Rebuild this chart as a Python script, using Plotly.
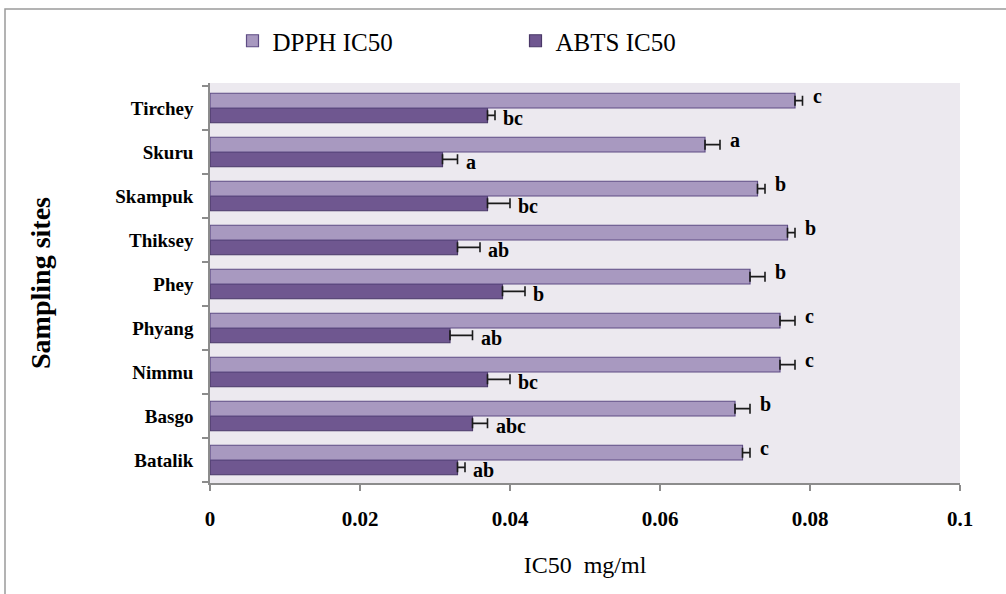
import plotly.graph_objects as go

# Sampling sites, listed bottom-to-top as drawn on the category axis
sites = ["Batalik", "Basgo", "Nimmu", "Phyang", "Phey", "Thiksey", "Skampuk", "Skuru", "Tirchey"]

# IC50 (mg/ml) and standard errors
dpph_ic50 = [0.071, 0.070, 0.076, 0.076, 0.072, 0.077, 0.073, 0.066, 0.078]
dpph_err = [0.001, 0.002, 0.002, 0.002, 0.002, 0.001, 0.001, 0.002, 0.001]
abts_ic50 = [0.033, 0.035, 0.037, 0.032, 0.039, 0.033, 0.037, 0.031, 0.037]
abts_err = [0.001, 0.002, 0.003, 0.003, 0.003, 0.003, 0.003, 0.002, 0.001]

# Significance letters
dpph_letters = ["c", "b", "c", "c", "b", "b", "b", "a", "c"]
abts_letters = ["ab", "abc", "bc", "ab", "b", "ab", "bc", "a", "bc"]

x_ticks = [0, 0.02, 0.04, 0.06, 0.08, 0.1]
x_ticktext = ["0", "0.02", "0.04", "0.06", "0.08", "0.1"]

SERIF = "Liberation Serif"
W, H = 1006, 594
ML, MR, MT, MB = 210, 46, 83, 111

fig = go.Figure()

err_style = dict(type="data", symmetric=False, color="#1a1a1a", thickness=1.6, width=5)

fig.add_trace(go.Bar(
    name="ABTS IC50", y=sites, x=abts_ic50, orientation="h",
    marker=dict(color="#6F5790", line=dict(color="#4A3868", width=1.2)),
    error_x=dict(array=abts_err, arrayminus=[0] * len(sites), **err_style),
    legendrank=2,
))
fig.add_trace(go.Bar(
    name="DPPH IC50", y=sites, x=dpph_ic50, orientation="h",
    marker=dict(color="#A899C0", line=dict(color="#5E4C84", width=1.2)),
    error_x=dict(array=dpph_err, arrayminus=[0] * len(sites), **err_style),
    legendrank=1,
))

letter_font = dict(family=SERIF, size=20, color="black", weight="bold")
annotations = []
for s, v, e, t in zip(sites, dpph_ic50, dpph_err, dpph_letters):
    annotations.append(dict(x=v + e, y=s, text=t, showarrow=False, xanchor="left",
                            xshift=8, yshift=12, font=letter_font))
for s, v, e, t in zip(sites, abts_ic50, abts_err, abts_letters):
    annotations.append(dict(x=v + e, y=s, text=t, showarrow=False, xanchor="left",
                            xshift=6, yshift=-10, font=letter_font))

# outer chart frame
pw, ph = W - ML - MR, H - MT - MB
def px_to_paper_x(p):
    return (p - ML) / pw
def px_to_paper_y(p):
    return 1 - (p - MT) / ph

shapes = [dict(type="rect", xref="paper", yref="paper",
               x0=px_to_paper_x(5), x1=px_to_paper_x(W + 10),
               y0=px_to_paper_y(H + 10), y1=px_to_paper_y(9),
               line=dict(color="#9a9a9a", width=1.5), fillcolor="rgba(0,0,0,0)", layer="below")]

fig.update_layout(
    width=W, height=H,
    margin=dict(l=ML, r=MR, t=MT, b=MB),
    paper_bgcolor="white", plot_bgcolor="#ECE9EF",
    barmode="group", bargap=0.33, bargroupgap=0,
    font=dict(family=SERIF, color="black"),
    showlegend=True,
    legend=dict(orientation="h", x=0.03, xanchor="left", y=1.105, yanchor="middle",
                font=dict(family=SERIF, size=25, color="black"),
                entrywidth=238, entrywidthmode="pixels", bgcolor="rgba(0,0,0,0)"),
    xaxis=dict(range=[0, 0.1], tickvals=x_ticks, ticktext=x_ticktext,
               showgrid=False, zeroline=False, showline=True, linecolor="#8c8c8c", linewidth=1.5,
               ticks="outside", ticklen=6, tickcolor="#8c8c8c", tickwidth=1.5,
               ticklabelstandoff=10,
               tickfont=dict(family=SERIF, size=21, color="black", weight="bold"),
               title=dict(text="IC50  mg/ml", font=dict(family=SERIF, size=24, color="black"), standoff=26)),
    yaxis=dict(categoryorder="array", categoryarray=sites,
               showgrid=False, zeroline=False, showline=True, linecolor="#8c8c8c", linewidth=1.5,
               ticks="outside", ticklen=6, tickcolor="#8c8c8c", tickwidth=1.5, tickson="boundaries",
               ticklabelstandoff=11,
               tickfont=dict(family=SERIF, size=19, color="black", weight="bold"),
               title=dict(text="Sampling sites", font=dict(family=SERIF, size=28, color="black", weight="bold"), standoff=56)),
    annotations=annotations,
    shapes=shapes,
)

fig.write_html("out.html")
